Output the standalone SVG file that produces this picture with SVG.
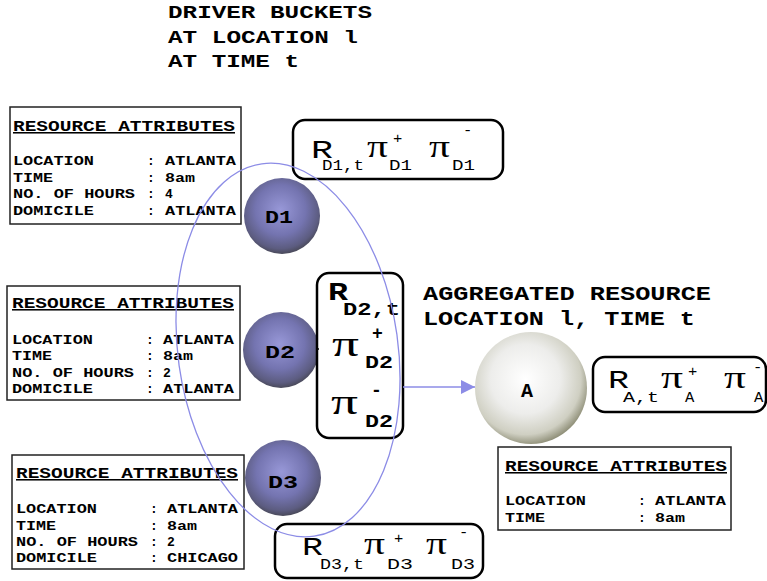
<svg xmlns="http://www.w3.org/2000/svg" width="767" height="581" viewBox="0 0 767 581">
  <defs>
    <radialGradient id="driverBall" cx="0.48" cy="0.42" r="0.6">
      <stop offset="0" stop-color="#9898d8"/>
      <stop offset="0.55" stop-color="#7474b0"/>
      <stop offset="0.85" stop-color="#5c5c80"/>
      <stop offset="1" stop-color="#44444e"/>
    </radialGradient>
    <radialGradient id="aggBall" cx="0.45" cy="0.42" r="0.62">
      <stop offset="0" stop-color="#ffffff"/>
      <stop offset="0.5" stop-color="#ededeb"/>
      <stop offset="0.8" stop-color="#cfcfc2"/>
      <stop offset="1" stop-color="#7c7c62"/>
    </radialGradient>
    <marker id="arrowHead" viewBox="0 0 14 14" refX="14" refY="7" markerWidth="14" markerHeight="14" markerUnits="userSpaceOnUse" orient="auto">
      <path d="M0,0 L14,7 L0,14 Z" fill="#8c8ce6"/>
    </marker>
  </defs>
  <style>
    text { font-family: "Liberation Mono", "DejaVu Sans Mono", monospace; fill: #000; }
    .title { font-size: 18px; font-weight: bold; }
    .agg { font-size: 20px; font-weight: bold; }
    .hd { font-size: 15.5px; font-weight: bold; text-decoration: underline; }
    .ln { font-size: 13px; font-weight: bold; }
    .attr { fill: #fff; stroke: #222; stroke-width: 1.5; }
    .fbox { fill: #fff; stroke: #000; stroke-width: 2.5; }
    .big { font-size: 26px; }
    .sub { font-size: 15.5px; }
    .pi { font-family: "Liberation Serif", "DejaVu Serif", serif; font-size: 32px; }
    .bold { font-weight: bold; }
    .ball-label { font-size: 18px; font-weight: bold; }
    .link { fill: none; stroke: #8c8ce6; stroke-width: 1.3; }
  </style>

  <!-- heading -->
  <g id="title">
    <text class="title" x="168" y="18" textLength="204" lengthAdjust="spacingAndGlyphs">DRIVER BUCKETS</text>
    <text class="title" x="168" y="43" textLength="190" lengthAdjust="spacingAndGlyphs">AT LOCATION l</text>
    <text class="title" x="168" y="67" textLength="131" lengthAdjust="spacingAndGlyphs">AT TIME t</text>
  </g>

  <!-- driver D1 -->
  <g id="attr-d1">
    <rect class="attr" x="10" y="107" width="231" height="117"/>
    <text class="hd" x="13" y="131" textLength="222" lengthAdjust="spacingAndGlyphs">RESOURCE ATTRIBUTES</text>
    <text class="ln" x="13" y="165" textLength="81" lengthAdjust="spacingAndGlyphs">LOCATION</text>
    <text class="ln" x="147" y="165">:</text>
    <text class="ln" x="165" y="165" textLength="71" lengthAdjust="spacingAndGlyphs">ATLANTA</text>
    <text class="ln" x="13" y="182" textLength="40" lengthAdjust="spacingAndGlyphs">TIME</text>
    <text class="ln" x="147" y="182">:</text>
    <text class="ln" x="165" y="182" textLength="30" lengthAdjust="spacingAndGlyphs">8am</text>
    <text class="ln" x="13" y="198" textLength="122" lengthAdjust="spacingAndGlyphs">NO. OF HOURS</text>
    <text class="ln" x="147" y="198">:</text>
    <text class="ln" x="165" y="198">4</text>
    <text class="ln" x="13" y="215" textLength="81" lengthAdjust="spacingAndGlyphs">DOMICILE</text>
    <text class="ln" x="147" y="215">:</text>
    <text class="ln" x="165" y="215" textLength="71" lengthAdjust="spacingAndGlyphs">ATLANTA</text>
  </g>
  <g id="d1">
    <circle cx="282" cy="216" r="38" fill="url(#driverBall)"/>
    <text class="ball-label" x="265" y="223" textLength="28" lengthAdjust="spacingAndGlyphs">D1</text>
  </g>
  <g id="value-d1">
    <rect class="fbox" x="293" y="120" width="210" height="59" rx="12"/>
    <text class="big" x="311" y="158" textLength="22" lengthAdjust="spacingAndGlyphs">R</text>
    <text class="sub" x="322" y="170" textLength="42" lengthAdjust="spacingAndGlyphs">D1,t</text>
    <text class="pi" x="367" y="157" textLength="21" lengthAdjust="spacingAndGlyphs">π</text>
    <text class="sub" x="393" y="143">+</text>
    <text class="sub" x="389" y="170" textLength="23" lengthAdjust="spacingAndGlyphs">D1</text>
    <text class="pi" x="429" y="157" textLength="21" lengthAdjust="spacingAndGlyphs">π</text>
    <text class="sub" x="463" y="135">-</text>
    <text class="sub" x="452" y="170" textLength="23" lengthAdjust="spacingAndGlyphs">D1</text>
  </g>

  <!-- driver D2 -->
  <g id="attr-d2">
    <rect class="attr" x="7" y="286" width="233" height="114"/>
    <text class="hd" x="12" y="308" textLength="222" lengthAdjust="spacingAndGlyphs">RESOURCE ATTRIBUTES</text>
    <text class="ln" x="12" y="344" textLength="81" lengthAdjust="spacingAndGlyphs">LOCATION</text>
    <text class="ln" x="146" y="344">:</text>
    <text class="ln" x="163" y="344" textLength="71" lengthAdjust="spacingAndGlyphs">ATLANTA</text>
    <text class="ln" x="12" y="360" textLength="40" lengthAdjust="spacingAndGlyphs">TIME</text>
    <text class="ln" x="146" y="360">:</text>
    <text class="ln" x="163" y="360" textLength="30" lengthAdjust="spacingAndGlyphs">8am</text>
    <text class="ln" x="12" y="377" textLength="122" lengthAdjust="spacingAndGlyphs">NO. OF HOURS</text>
    <text class="ln" x="146" y="377">:</text>
    <text class="ln" x="163" y="377">2</text>
    <text class="ln" x="12" y="393" textLength="81" lengthAdjust="spacingAndGlyphs">DOMICILE</text>
    <text class="ln" x="146" y="393">:</text>
    <text class="ln" x="163" y="393" textLength="71" lengthAdjust="spacingAndGlyphs">ATLANTA</text>
  </g>
  <g id="d2">
    <circle cx="281" cy="350" r="38" fill="url(#driverBall)"/>
    <text class="ball-label" x="265" y="358" textLength="30" lengthAdjust="spacingAndGlyphs">D2</text>
  </g>
  <g id="value-d2">
    <rect class="fbox" x="317" y="273" width="86" height="165" rx="12"/>
    <text class="big bold" x="328" y="300" textLength="20" lengthAdjust="spacingAndGlyphs">R</text>
    <text class="sub bold" x="343" y="315" textLength="57" lengthAdjust="spacingAndGlyphs" style="font-size:18px">D2,t</text>
    <text class="pi" x="332" y="356" textLength="27" lengthAdjust="spacingAndGlyphs" style="font-size:36px">π</text>
    <text class="sub bold" x="372" y="339" style="font-size:18px">+</text>
    <text class="sub bold" x="365" y="368" textLength="28" lengthAdjust="spacingAndGlyphs" style="font-size:18px">D2</text>
    <text class="pi" x="331" y="414" textLength="27" lengthAdjust="spacingAndGlyphs" style="font-size:36px">π</text>
    <text class="sub bold" x="371" y="396" style="font-size:18px">-</text>
    <text class="sub bold" x="365" y="427" textLength="28" lengthAdjust="spacingAndGlyphs" style="font-size:18px">D2</text>
  </g>

  <!-- driver D3 -->
  <g id="attr-d3">
    <rect class="attr" x="12" y="455" width="232" height="114"/>
    <text class="hd" x="16" y="478" textLength="222" lengthAdjust="spacingAndGlyphs">RESOURCE ATTRIBUTES</text>
    <text class="ln" x="16" y="513" textLength="81" lengthAdjust="spacingAndGlyphs">LOCATION</text>
    <text class="ln" x="150" y="513">:</text>
    <text class="ln" x="167" y="513" textLength="71" lengthAdjust="spacingAndGlyphs">ATLANTA</text>
    <text class="ln" x="16" y="530" textLength="40" lengthAdjust="spacingAndGlyphs">TIME</text>
    <text class="ln" x="150" y="530">:</text>
    <text class="ln" x="167" y="530" textLength="30" lengthAdjust="spacingAndGlyphs">8am</text>
    <text class="ln" x="16" y="546" textLength="122" lengthAdjust="spacingAndGlyphs">NO. OF HOURS</text>
    <text class="ln" x="150" y="546">:</text>
    <text class="ln" x="167" y="546">2</text>
    <text class="ln" x="16" y="562" textLength="81" lengthAdjust="spacingAndGlyphs">DOMICILE</text>
    <text class="ln" x="150" y="562">:</text>
    <text class="ln" x="167" y="562" textLength="71" lengthAdjust="spacingAndGlyphs">CHICAGO</text>
  </g>
  <g id="d3">
    <circle cx="283" cy="478" r="38" fill="url(#driverBall)"/>
    <text class="ball-label" x="268" y="488" textLength="30" lengthAdjust="spacingAndGlyphs">D3</text>
  </g>
  <g id="value-d3">
    <rect class="fbox" x="275" y="524" width="208" height="54" rx="12"/>
    <text class="big" x="302" y="555" textLength="21" lengthAdjust="spacingAndGlyphs">R</text>
    <text class="sub" x="320" y="569" textLength="44" lengthAdjust="spacingAndGlyphs">D3,t</text>
    <text class="pi" x="364" y="554" textLength="21" lengthAdjust="spacingAndGlyphs">π</text>
    <text class="sub" x="394" y="543">+</text>
    <text class="sub" x="387" y="569" textLength="26" lengthAdjust="spacingAndGlyphs">D3</text>
    <text class="pi" x="426" y="554" textLength="21" lengthAdjust="spacingAndGlyphs">π</text>
    <text class="sub" x="459" y="537">-</text>
    <text class="sub" x="451" y="569" textLength="24" lengthAdjust="spacingAndGlyphs">D3</text>
  </g>

  <!-- aggregated resource -->
  <g id="agg-title">
    <text class="agg" x="423" y="300" textLength="288" lengthAdjust="spacingAndGlyphs">AGGREGATED RESOURCE</text>
    <text class="agg" x="423" y="325" textLength="272" lengthAdjust="spacingAndGlyphs">LOCATION l, TIME t</text>
  </g>
  <g id="agg">
    <circle cx="531" cy="388" r="56" fill="url(#aggBall)"/>
    <text class="ball-label" x="521" y="397" style="font-size:20px">A</text>
  </g>
  <g id="value-agg">
    <rect class="fbox" x="593" y="357" width="173" height="55" rx="12"/>
    <text class="big" x="608" y="388" textLength="21" lengthAdjust="spacingAndGlyphs">R</text>
    <text class="sub" x="623" y="402" textLength="36" lengthAdjust="spacingAndGlyphs">A,t</text>
    <text class="pi" x="661" y="388" textLength="22" lengthAdjust="spacingAndGlyphs">π</text>
    <text class="sub" x="688" y="376">+</text>
    <text class="sub" x="685" y="402">A</text>
    <text class="pi" x="724" y="388" textLength="22" lengthAdjust="spacingAndGlyphs">π</text>
    <text class="sub" x="753" y="372">-</text>
    <text class="sub" x="754" y="402">A</text>
  </g>
  <g id="attr-agg">
    <rect class="attr" x="498" y="447" width="233" height="83"/>
    <text class="hd" x="505" y="471" textLength="222" lengthAdjust="spacingAndGlyphs">RESOURCE ATTRIBUTES</text>
    <text class="ln" x="505" y="505" textLength="81" lengthAdjust="spacingAndGlyphs">LOCATION</text>
    <text class="ln" x="638" y="505">:</text>
    <text class="ln" x="655" y="505" textLength="71" lengthAdjust="spacingAndGlyphs">ATLANTA</text>
    <text class="ln" x="505" y="522" textLength="40" lengthAdjust="spacingAndGlyphs">TIME</text>
    <text class="ln" x="638" y="522">:</text>
    <text class="ln" x="655" y="522" textLength="30" lengthAdjust="spacingAndGlyphs">8am</text>
  </g>

  <!-- connectors: bucket outline drawn over the nodes, and the aggregation arrow -->
  <g id="connectors">
    <ellipse class="link" cx="288" cy="350" rx="110" ry="188" transform="rotate(-8 288 350)"/>
    <path class="link" d="M403,387 L475,387" marker-end="url(#arrowHead)"/>
    <path d="M316,349 L319,349" stroke="#000" stroke-width="1.5"/>
  </g>
</svg>
